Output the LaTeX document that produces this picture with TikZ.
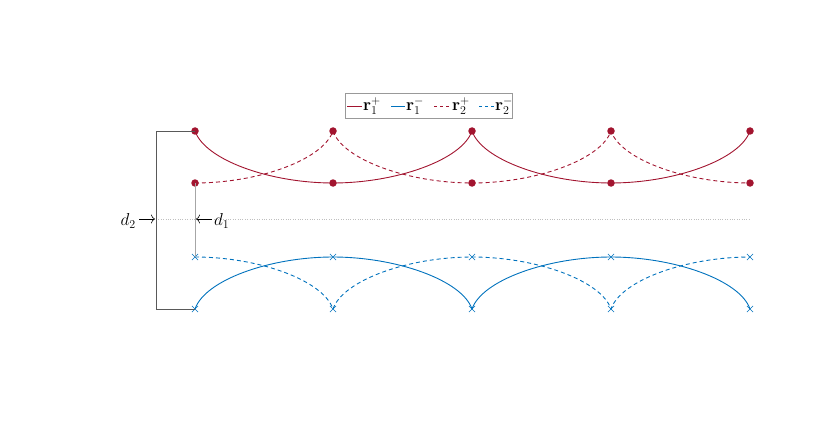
\documentclass[tikz,border=0pt]{standalone}
\usetikzlibrary{shapes.misc,arrows.meta}
\definecolor{mred}{RGB}{162,20,47}
\definecolor{mblue}{RGB}{0,114,189}
\begin{document}
\begin{tikzpicture}[x=1pt,y=-1pt,
  rdot/.style={circle,fill=mred,inner sep=0pt,minimum size=7.5pt},
  bx/.style={cross out,draw=mblue,inner sep=0pt,minimum size=5.5pt,line width=0.6pt},
  rline/.style={draw=mred,line width=0.9pt},
  bline/.style={draw=mblue,line width=0.9pt},
  dsh/.style={dash pattern=on 4pt off 3pt},
  lbl/.style={font=\fontsize{17}{19}\selectfont,inner sep=0pt},
  leglbl/.style={font=\fontsize{18}{20}\selectfont,inner sep=0pt},
  darr/.style={-{To[length=4pt,width=9pt]},line width=0.6pt}]
\path[use as bounding box] (0,0) rectangle (830,425);
% markers
\foreach \i/\x in {1/195,2/333,3/472,4/611,5/750}{
  \node[rdot] (rt\i) at (\x,131) {};
  \node[rdot] (rb\i) at (\x,183) {};
  \node[bx] (bt\i) at (\x,257) {};
  \node[bx] (bb\i) at (\x,309) {};
}
% middle dotted line
\coordinate (ml) at (156,219);
\coordinate (mr) at (750,219);
\draw[black!25,dotted,line width=0.4pt] (ml) -- (mr);
% red solid r1+
\draw[rline] (rt1.center) .. controls (205,160) and (270,183) .. (rb2.center)
  .. controls (396,183) and (462,160) .. (rt3.center)
  .. controls (482,160) and (548,183) .. (rb4.center)
  .. controls (674,183) and (740,160) .. (rt5.center);
% red dashed r2+
\draw[rline,dsh] (rb1.center) .. controls (258,183) and (323,160) .. (rt2.center)
  .. controls (343,160) and (409,183) .. (rb3.center)
  .. controls (535,183) and (601,160) .. (rt4.center)
  .. controls (621,160) and (687,183) .. (rb5.center);
% blue solid r1-
\draw[bline] (bb1.center) .. controls (205,280) and (270,257) .. (bt2.center)
  .. controls (396,257) and (462,280) .. (bb3.center)
  .. controls (482,280) and (548,257) .. (bt4.center)
  .. controls (674,257) and (740,280) .. (bb5.center);
% blue dashed r2-
\draw[bline,dsh] (bt1.center) .. controls (258,257) and (323,280) .. (bb2.center)
  .. controls (343,280) and (409,257) .. (bt3.center)
  .. controls (535,257) and (601,280) .. (bb4.center)
  .. controls (621,280) and (687,257) .. (bt5.center);
% d1 marker
\draw[black!35,line width=0.8pt] (rb1.center) -- (bt1.center);
\node[lbl,anchor=west] (d1) at (214,221) {$d_1$};
\coordinate (d1s) at (212,219);
\coordinate (d1a) at (196,219);
\draw[darr] (d1s) -- (d1a);
% d2 bracket
\coordinate (c1) at (156,131);
\coordinate (c2) at (156,309);
\draw[black!65,line width=0.6pt] (rt1.center) -- (c1) -- (c2) -- (bb1.center);
\node[lbl,anchor=east] (d2) at (136,221) {$d_2$};
\coordinate (d2s) at (139,219);
\draw[darr] (d2s) -- (155,219);
% legend
\node[draw=black!40,line width=0.5pt,minimum width=167pt,minimum height=25pt,inner sep=0pt] (leg) at (428.5,105.5) {};
\coordinate (l1a) at (347,106); \coordinate (l1b) at (362,106);
\draw[rline] (l1a) -- (l1b);
\node[leglbl,anchor=west] (t1) at (363,106) {$\mathbf{r}_1^+$};
\coordinate (l2a) at (391,106); \coordinate (l2b) at (405,106);
\draw[bline] (l2a) -- (l2b);
\node[leglbl,anchor=west] (t2) at (406,106) {$\mathbf{r}_1^-$};
\coordinate (l3a) at (434,106); \coordinate (l3b) at (451,106);
\draw[rline,dash pattern=on 3pt off 3pt] (l3a) -- (l3b);
\node[leglbl,anchor=west] (t3) at (452,106) {$\mathbf{r}_2^+$};
\coordinate (l4a) at (479,106); \coordinate (l4b) at (494,106);
\draw[bline,dash pattern=on 3pt off 3pt] (l4a) -- (l4b);
\node[leglbl,anchor=west] (t4) at (495,106) {$\mathbf{r}_2^-$};
\end{tikzpicture}
\end{document}
